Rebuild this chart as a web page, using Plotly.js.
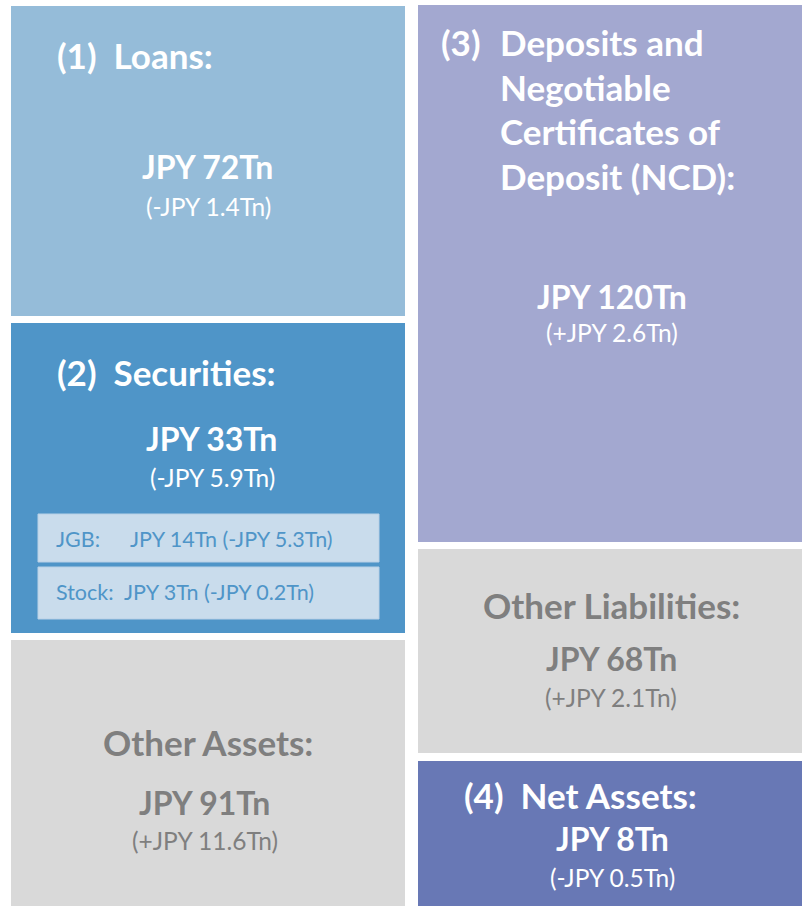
<!DOCTYPE html>
<html>
<head>
<meta charset="utf-8">
<script src="https://cdn.plot.ly/plotly-3.0.1.min.js"></script>
<style>html,body{margin:0;padding:0;background:#fff;}#chart{width:802px;height:906px;}</style>
</head>
<body>
<div id="chart"></div>
<script>
// ---- data ----
const blockTitles = ['(1)  Loans:', '(2)  Securities:', 'Other Assets:',
  '(3)  Deposits and|Negotiable|Certificates of|Deposit (NCD):', 'Other Liabilities:', '(4)  Net Assets:'];
const blockAmounts = [72, 33, 91, 120, 68, 8];          // JPY trillion
const blockChanges = [-1.4, -5.9, 11.6, 2.6, 2.1, -0.5]; // JPY trillion
const subItems = ['JGB:', 'Stock:'];
const subAmounts = [14, 3];
const subChanges = [-5.3, -0.2];

// ---- layout geometry (pixel space) ----
const boxes = [ // x0, x1, y0, y1
  [11, 405, 6, 316],
  [11, 405, 323, 633],
  [11, 405, 640, 906],
  [418, 802, 5, 542],
  [418, 802, 549, 753],
  [418, 802, 761, 906]
];
const fills = ['#95BCD9', '#4F95C8', '#D9D9D9', '#A3A8D0', '#D9D9D9', '#6878B5'];
const textColors = ['#FFFFFF', '#FFFFFF', '#7F7F7F', '#FFFFFF', '#7F7F7F', '#FFFFFF'];
// title: [x, y, anchor], amount: [x,y], change: [x,y]
const titlePos = [[55, 55, 'left'], [55, 372, 'left'], [208, 742, 'center'], [439, 42, 'left'], [611, 605, 'center'], [462, 795, 'left']];
const amountPos = [[207, 166], [211, 438], [204, 802], [612, 296], [611, 658], [612, 838]];
const changePos = [[208, 206], [212, 477], [205, 840], [612, 332], [611, 697], [612, 877]];
const subBoxes = [[38, 379, 514, 562], [38, 379, 567, 619]];
const subY = [539, 592];

const FONT = 'Lato, "Open Sans", sans-serif';
const TITLE_SIZE = 35, AMT_SIZE = 32, CHG_SIZE = 24.5, SUB_SIZE = 21.5;
const fmtAmt = v => 'JPY ' + v + 'Tn';
const fmtChg = v => '(' + (v >= 0 ? '+' : '-') + 'JPY ' + Math.abs(v).toFixed(1) + 'Tn)';

const shapes = [];
const annotations = [];
function ann(x, y, text, size, color, bold, anchor) {
  annotations.push({
    x: x, y: y, xref: 'x', yref: 'y', text: bold ? '<b>' + text + '</b>' : text,
    showarrow: false, xanchor: anchor || 'center', yanchor: 'middle',
    font: {family: FONT, size: size, color: color}
  });
}

boxes.forEach((b, i) => {
  shapes.push({type: 'rect', xref: 'x', yref: 'y', x0: b[0], x1: b[1], y0: b[2], y1: b[3],
    fillcolor: fills[i], line: {width: 0}, layer: 'below'});
  const tp = titlePos[i];
  const lines = blockTitles[i].split('|');
  if (lines.length === 1) {
    ann(tp[0], tp[1], lines[0], TITLE_SIZE, textColors[i], true, tp[2]);
  } else {
    // hanging indent layout for multi-line title
    const m = lines[0].match(/^(\(\d\))\s+(.*)$/);
    ann(tp[0], tp[1], m[1], TITLE_SIZE, textColors[i], true, 'left');
    const rest = [m[2]].concat(lines.slice(1));
    rest.forEach((ln, k) => ann(498, tp[1] + k * 44.7, ln, TITLE_SIZE, textColors[i], true, 'left'));
  }
  ann(amountPos[i][0], amountPos[i][1], fmtAmt(blockAmounts[i]), AMT_SIZE, textColors[i], true);
  ann(changePos[i][0], changePos[i][1], fmtChg(blockChanges[i]), CHG_SIZE, textColors[i], false);
});

subBoxes.forEach((b, i) => {
  shapes.push({type: 'rect', xref: 'x', yref: 'y', x0: b[0], x1: b[1], y0: b[2], y1: b[3],
    fillcolor: '#C9DCEC', line: {width: 1, color: '#B8D0E6'}, layer: 'below'});
});
ann(54, subY[0], subItems[0], SUB_SIZE, '#4F95C8', false, 'left');
ann(128, subY[0], fmtAmt(subAmounts[0]) + ' ' + fmtChg(subChanges[0]), SUB_SIZE, '#4F95C8', false, 'left');
ann(54, subY[1], subItems[1] + '  ' + fmtAmt(subAmounts[1]) + ' ' + fmtChg(subChanges[1]), SUB_SIZE, '#4F95C8', false, 'left');

const layout = {
  width: 802, height: 906,
  margin: {l: 0, r: 0, t: 0, b: 0, pad: 0},
  paper_bgcolor: '#FFFFFF', plot_bgcolor: '#FFFFFF',
  xaxis: {range: [0, 802], visible: false, fixedrange: true},
  yaxis: {range: [906, 0], visible: false, fixedrange: true},
  showlegend: false,
  shapes: shapes,
  annotations: annotations
};
Plotly.newPlot('chart', [], layout, {displayModeBar: false, staticPlot: true});
</script>
</body>
</html>
